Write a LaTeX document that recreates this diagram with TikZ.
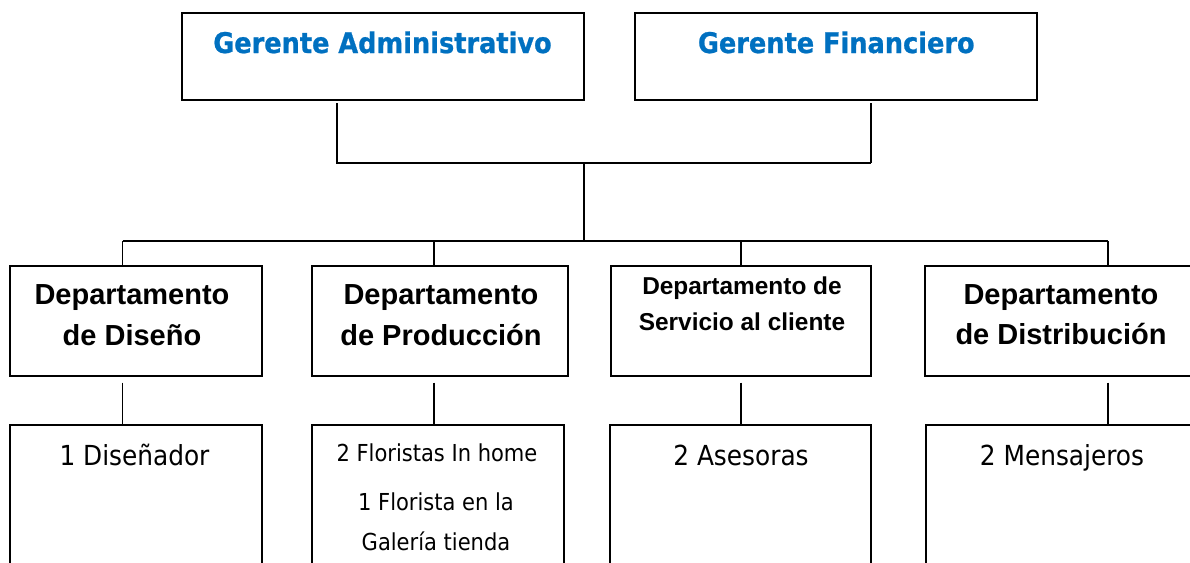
\documentclass[tikz,border=0pt]{standalone}
\usepackage{xcolor}
\usepackage{fontspec}
\usepackage{tikz}
\usetikzlibrary{positioning}
\newfontfamily\tahomaf{DejaVuSansCondensed.ttf}[BoldFont=DejaVuSansCondensed-Bold.ttf]
\newfontfamily\tahomabf{DejaVuSansCondensed-Bold.ttf}[FakeBold=0.8]
\newfontfamily\arialf{Liberation Sans}
\definecolor{gerblue}{HTML}{0070C0}
\tikzset{
    gerbox/.style = {rectangle, draw=black, line width=1.1pt, minimum width=8.04cm, minimum height=1.74cm, inner sep=0pt},
    depbox/.style = {rectangle, draw=black, line width=0.75pt, minimum height=2.2cm, inner sep=0pt},
    perbox/.style = {rectangle, draw=black, line width=0.75pt, minimum height=3.5cm, inner sep=0pt},
    gertext/.style = {anchor=base, inner sep=0pt, text=gerblue, font=\tahomabf\fontsize{16.2}{20}\selectfont},
    deptext/.style = {anchor=base, inner sep=0pt, font=\arialf\bfseries\fontsize{16.5}{20}\selectfont},
    depsmall/.style = {deptext, font=\arialf\bfseries\fontsize{13.9}{17}\selectfont},
    pertext/.style = {anchor=base, inner sep=0pt, font=\tahomaf\fontsize{15.7}{19}\selectfont},
    persmall/.style = {pertext, font=\tahomaf\fontsize{13.3}{16}\selectfont},
}
\begin{document}
\begin{tikzpicture}[x=0.02cm, y=-0.02cm]
\tikzset{
    edgen/.style = {-, line width=0.85pt, black},
    edgeg/.style = {-, line width=0.85pt, black, shorten <=2.5*0.02cm},
    edged/.style = {-, line width=0.85pt, black, shorten <=6*0.02cm}
}
\useasboundingbox (0,0) rectangle (1190,562);
\clip (0,0) rectangle (1190,562);
% gerentes
\node[gerbox] at (383,56.5) (ga) {};
\node[gerbox] at (836,56.5) (gf) {};
\node[gertext] at (382.5,53) (gat) {Gerente Administrativo};
\node[gertext] at (836.3,53) (gft) {Gerente Financiero};
% departamentos
\node[depbox, minimum width=5.04cm] at (136,321) (d1) {};
\node[depbox, minimum width=5.12cm] at (440,321) (d2) {};
\node[depbox, minimum width=5.2cm] at (741,321) (d3) {};
\node[depbox, minimum width=5.44cm] at (1061,321) (d4) {};
\node[deptext] at (132,304) (d1a) {Departamento};
\node[deptext] at (132,345) (d1b) {de Diseño};
\node[deptext] at (441,304) (d2a) {Departamento};
\node[deptext] at (441,345) (d2b) {de Producción};
\node[depsmall] at (742,294) (d3a) {Departamento de};
\node[depsmall] at (742,330) (d3b) {Servicio al cliente};
\node[deptext] at (1061,304) (d4a) {Departamento};
\node[deptext] at (1061,344) (d4b) {de Distribución};
% personal
\node[perbox, minimum width=5.04cm] at (136,512.5) (b1) {};
\node[perbox, minimum width=5.04cm] at (438,512.5) (b2) {};
\node[perbox, minimum width=5.22cm] at (740.5,512.5) (b3) {};
\node[perbox, minimum width=5.42cm] at (1061.5,512.5) (b4) {};
\node[pertext] at (134.5,465) (b1a) {1 Diseñador};
\node[persmall] at (437,461) (b2a) {2 Floristas In home};
\node[persmall] at (436,510) (b2b) {1 Florista en la};
\node[persmall] at (436,550) (b2c) {Galería tienda};
\node[pertext] at (741,465) (b3a) {2 Asesoras};
\node[pertext] at (1062,465) (b4a) {2 Mensajeros};
%
\coordinate (gaj) at (337,163);
\coordinate (gfj) at (871,163);
\coordinate (mid) at (584,163);
\coordinate (bus) at (584,241);
\coordinate (j1) at (122.5,241);
\coordinate (j2) at (434,241);
\coordinate (j3) at (741,241);
\coordinate (j4) at (1108,241);
%
\draw[edgeg] (gaj |- ga.south) -- (gaj) -- (gfj);
\draw[edgeg] (gfj |- gf.south) -- (gfj);
\draw[edgen] (mid) -- (bus);
\draw[edgen] (j1) -- (j4);
%
\draw[edgen] (j1) -- (j1 |- d1.north);
\draw[edgen] (j2) -- (j2 |- d2.north);
\draw[edgen] (j3) -- (j3 |- d3.north);
\draw[edgen] (j4) -- (j4 |- d4.north);
%
\draw[edged] (j1 |- d1.south) -- (j1 |- b1.north);
\draw[edged] (j2 |- d2.south) -- (j2 |- b2.north);
\draw[edged] (j3 |- d3.south) -- (j3 |- b3.north);
\draw[edged] (j4 |- d4.south) -- (j4 |- b4.north);
\end{tikzpicture}
\end{document}
